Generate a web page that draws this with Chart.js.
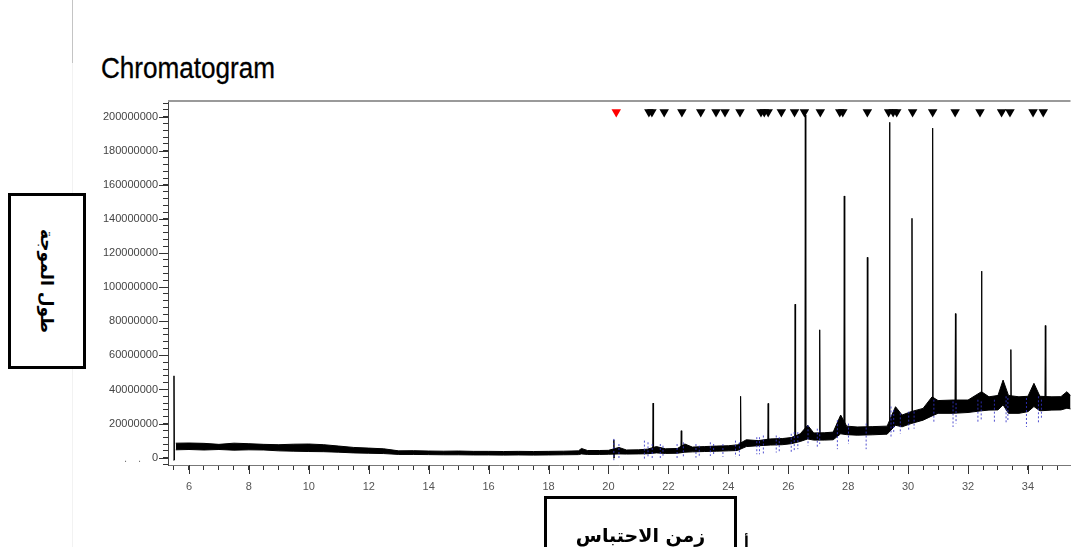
<!DOCTYPE html>
<html lang="en">
<head>
<meta charset="utf-8">
<title>Chromatogram</title>
<script src="https://cdn.jsdelivr.net/npm/chart.js@4.4.1/dist/chart.umd.min.js"></script>
<style>
    html, body { margin: 0; padding: 0; background: #fff; }
    body { width: 1076px; height: 547px; overflow: hidden; position: relative; font-family: 'Liberation Sans', Arial, sans-serif; }
    #chart { position: absolute; left: 0; top: 0; }
    .sep { position: absolute; left: 72px; top: 0; width: 1px; height: 63px; background: #c4c4c4; }
    .sep.faint { top: 63px; height: 484px; background: #f2f2f2; }
    .title { position: absolute; left: 101px; top: 54px; font-size: 29px; line-height: 1; color: #000; transform: scaleX(0.9); transform-origin: left top; white-space: nowrap; -webkit-text-stroke: 0.3px #000; }
    .box { position: absolute; border: 3px solid #000; background: #fff; box-sizing: border-box; }
    #yBox { left: 8px; top: 193px; width: 78px; height: 176px; }
    #yBox span { position: absolute; left: 50%; top: 50%; transform: translate(-50%, -50%) rotate(90deg); white-space: nowrap; font: bold 17px 'DejaVu Sans', sans-serif; }
    #xBox { left: 544px; top: 496px; width: 193px; height: 70px; }
    #xBox span { position: absolute; left: 0; right: 0; top: 25px; text-align: center; white-space: nowrap; font: bold 19px 'DejaVu Sans', sans-serif; }
    .dots { position: absolute; left: 124px; top: 452px; font-size: 11px; color: #777; letter-spacing: 4px; }
    .stray { position: absolute; left: 744px; top: 534px; font: bold 14px 'DejaVu Sans', sans-serif; }
</style>
</head>
<body>
<div class="sep"></div>
<div class="sep faint"></div>
<div class="title">Chromatogram</div>
<canvas id="chart" width="1076" height="547"></canvas>
<div class="dots">. .</div>
<div class="box" id="yBox"><span dir="rtl">طول الموجة</span></div>
<div class="box" id="xBox"><span dir="rtl">زمن الاحتباس</span></div>
<div class="stray">أ</div>
<script>
const M = 1e6;

// axis ranges (minutes, counts)
const xMin = 5.3, xMax = 35.42;
const yMin = -4.3 * M, yMax = 209.2 * M;
const yLabelStep = 20;   // millions, labelled ticks
const yMinorStep = 4;    // millions, small ticks

// noisy baseline band of the trace, upper and lower edge (millions)
const bandTimes = [5.56, 6.0, 6.5, 7.0, 7.5, 8.0, 8.5, 9.0, 9.5, 10.0, 10.5, 11.0, 11.5, 12.0, 12.5, 13.0, 13.5, 14.0, 14.5, 15.0,
    15.5, 16.0, 16.5, 17.0, 17.5, 18.0, 18.5, 19.0, 19.1, 19.3, 19.7, 20.0, 20.35, 20.6, 21.0, 21.3, 21.6, 21.9, 22.3, 22.55,
    22.8, 23.2, 23.6, 24.0, 24.3, 24.6, 25.0, 25.4, 25.8, 26.1, 26.4, 26.65, 26.85, 27.2, 27.5, 27.75, 27.95, 28.3, 28.8, 29.3,
    29.58, 29.8, 30.1, 30.5, 30.8, 31.0, 31.5, 32.0, 32.45, 32.7, 33.0, 33.17, 33.35, 33.7, 34.0, 34.2, 34.4, 34.8, 35.1, 35.3, 35.45];
const bandUpper = [8.5, 8.6, 8.4, 7.8, 8.5, 8.2, 7.8, 7.6, 7.9, 8.0, 7.6, 6.8, 6.0, 5.6, 5.2, 4.0, 4.1, 3.9, 3.8, 3.9,
    3.7, 3.7, 3.6, 3.7, 3.6, 3.7, 3.8, 4.0, 5.4, 4.2, 4.2, 4.3, 6.0, 4.5, 4.6, 5.0, 6.5, 5.2, 5.4, 8.0,
    6.2, 6.5, 6.8, 7.0, 7.5, 10.5, 10.0, 11.0, 11.2, 11.8, 14.0, 19.0, 14.5, 14.6, 15.0, 25.0, 18.5, 18.0, 18.2, 18.5,
    29.9, 25.0, 27.0, 28.9, 35.7, 33.5, 33.8, 33.8, 38.7, 35.7, 36.5, 45.5, 36.5, 35.7, 36.0, 43.6, 36.0, 35.7, 35.8, 38.7, 36.0];
const bandLower = [4.6, 4.8, 4.5, 4.8, 4.4, 4.6, 4.5, 4.0, 3.8, 3.6, 3.5, 3.2, 2.8, 2.6, 2.4, 1.9, 1.9, 1.8, 1.7, 1.7,
    1.6, 1.6, 1.5, 1.6, 1.5, 1.6, 1.7, 1.8, 2.2, 1.9, 1.9, 2.0, 2.2, 2.1, 2.2, 2.3, 2.8, 2.5, 2.6, 3.2,
    3.4, 3.6, 3.8, 4.0, 4.2, 6.5, 7.0, 7.4, 7.6, 8.2, 9.5, 11.0, 10.3, 10.3, 10.5, 14.0, 13.5, 13.2, 13.4, 13.8,
    19.0, 18.1, 20.0, 22.0, 24.5, 26.0, 26.0, 26.5, 27.5, 27.9, 28.0, 31.0, 26.0, 26.0, 27.0, 30.0, 27.5, 27.9, 28.0, 29.0, 28.5];

// sharp peaks: retention time, apex and foot (millions)
const peakTimes   = [5.5, 20.18, 21.49, 22.43, 24.41, 25.33, 26.23, 26.57, 27.05, 27.87, 28.64, 29.38, 30.13, 30.82, 31.58, 32.45, 33.43, 34.58];
const peakHeights = [48, 10.5, 32, 15.8, 36, 31.8, 90, 201, 75, 153.5, 117.5, 196.7, 140.4, 193.3, 84.5, 109.4, 63.4, 77.5];
const peakBases   = [-1.5, -0.3, 3.5, 4, 5.5, 8.5, 9.5, 11, 11.5, 15, 15, 16, 21, 26, 28, 29, 30, 31];

// detected-peak markers along the top (first one red)
const markerTimes = [20.26, 21.35, 21.45, 21.86, 22.45, 23.08, 23.59, 23.89, 24.39, 25.09, 25.2, 25.33, 25.77, 26.21, 26.54,
    27.07, 27.72, 27.82, 28.64, 29.35, 29.5, 29.62, 30.15, 30.82, 31.57, 32.4, 33.12, 33.4, 34.17, 34.51];
const markerLevel = 202.8;

// blue dashed integration marks: time, top, bottom (millions)
const blueTimes  = [20.18, 20.35, 21.2, 21.32, 21.46, 21.73, 21.82, 22.29, 22.5, 22.92, 23.03, 23.4, 23.51, 23.82, 24.24, 24.37,
    24.95, 25.04, 25.17, 25.6, 25.7, 26.1, 26.2, 26.32, 26.66, 26.97, 27.05, 27.64, 28.01, 28.6, 29.43, 29.52, 29.74, 30.02,
    30.2, 30.86, 31.5, 31.6, 32.33, 32.44, 32.88, 33.27, 33.33, 33.95, 34.35, 34.45];
const blueTop    = [11, 8, 10, 9, 8, 8, 7, 8, 9, 8, 7, 9, 8, 8, 10, 9,
    12, 12, 13, 13, 12, 14, 15, 15, 19, 17, 16, 22, 20, 20, 30, 28, 26, 27,
    27, 34, 33, 32, 34, 33, 34, 36, 35, 35, 36, 34];
const blueBottom = [-1.5, -1, -1, 0, -1, -1, 0, -1, 0, 0, 0.5, 1, 1, 0.5, 0.5, 1,
    2, 2, 2.5, 3, 3.5, 3, 4, 5, 7, 6, 8, 5, 8, 5, 12, 14, 14, 16,
    17, 20, 18, 20, 21, 22, 20, 20, 22, 18, 20, 23];

// Build datasets
const lowerPts = bandTimes.map((t, i) => ({ x: t, y: bandLower[i] * M }));
const upperPts = bandTimes.map((t, i) => ({ x: t, y: bandUpper[i] * M }));

const peakPts = [];
peakTimes.forEach((t, i) => {
    peakPts.push({ x: t - 0.015, y: peakBases[i] * M });
    peakPts.push({ x: t, y: peakHeights[i] * M });
    peakPts.push({ x: t + 0.015, y: peakBases[i] * M });
    peakPts.push({ x: t + 0.016, y: null });
});

const bluePts = [];
blueTimes.forEach((t, i) => {
    bluePts.push({ x: t, y: blueTop[i] * M });
    bluePts.push({ x: t, y: blueBottom[i] * M });
    bluePts.push({ x: t + 0.001, y: null });
});

const markerPts = markerTimes.map(t => ({ x: t, y: markerLevel * M }));
const markerColors = markerTimes.map((t, i) => i === 0 ? '#ff0000' : '#000000');

const isYLabel = v => Math.abs(v % (yLabelStep * M)) < 1;
const isXLabel = v => Math.abs(v % 2) < 1e-9;

// longer tick marks at labelled values and the top frame line
const majorTicks = {
    id: 'majorTicks',
    afterDraw(chart) {
        const { ctx, chartArea, scales } = chart;
        ctx.save();
        ctx.strokeStyle = '#333';
        ctx.lineWidth = 1;
        ctx.beginPath();
        scales.x.ticks.forEach(t => {
            if (isXLabel(t.value)) {
                const px = Math.round(scales.x.getPixelForValue(t.value)) + 0.5;
                ctx.moveTo(px, chartArea.bottom);
                ctx.lineTo(px, chartArea.bottom + 9);
            }
        });
        scales.y.ticks.forEach(t => {
            if (isYLabel(t.value)) {
                const py = Math.round(scales.y.getPixelForValue(t.value)) + 0.5;
                ctx.moveTo(chartArea.left - 9, py);
                ctx.lineTo(chartArea.left, py);
            }
        });
        ctx.stroke();
        ctx.strokeStyle = '#9a9a9a';
        ctx.lineWidth = 2;
        ctx.beginPath();
        ctx.moveTo(chartArea.left, chartArea.top);
        ctx.lineTo(chartArea.right, chartArea.top);
        ctx.stroke();
        ctx.restore();
    }
};

new Chart(document.getElementById('chart'), {
    type: 'line',
    data: {
        datasets: [
            { data: lowerPts, borderColor: '#000', borderWidth: 1, pointRadius: 0, fill: false, order: 4 },
            { data: upperPts, borderColor: '#000', borderWidth: 1, pointRadius: 0, fill: '-1', backgroundColor: '#000', order: 3 },
            { data: peakPts, borderColor: '#000', borderWidth: 1, pointRadius: 0, spanGaps: false, order: 2 },
            { data: bluePts, borderColor: 'rgba(50,50,200,0.85)', borderWidth: 1, borderDash: [2, 2], pointRadius: 0, spanGaps: false, order: 1 },
            {
                data: markerPts, showLine: false, pointStyle: 'triangle', rotation: 180, pointRadius: 5.5,
                pointBackgroundColor: markerColors, pointBorderColor: markerColors, pointBorderWidth: 0, order: 0
            }
        ]
    },
    options: {
        responsive: false,
        animation: false,
        devicePixelRatio: 1,
        layout: { padding: { top: 101, right: 0, bottom: 0, left: 0 } },
        plugins: { legend: { display: false }, tooltip: { enabled: false } },
        scales: {
            x: {
                type: 'linear',
                min: xMin,
                max: xMax,
                afterFit: scale => { scale.height = 82; },
                border: { color: '#777', width: 1 },
                grid: { drawOnChartArea: false, tickLength: 5, color: '#333' },
                ticks: {
                    stepSize: 0.5,
                    includeBounds: false,
                    autoSkip: false,
                    maxRotation: 0,
                    padding: 10,
                    color: '#555',
                    font: { family: 'Liberation Sans', size: 11 },
                    callback: v => (isXLabel(v) ? String(v) : '')
                }
            },
            y: {
                min: yMin,
                max: yMax,
                afterFit: scale => { scale.width = 168; },
                afterBuildTicks: scale => {
                    const ticks = [];
                    for (let v = -yMinorStep; v * M <= yMax; v += yMinorStep) ticks.push({ value: v * M });
                    scale.ticks = ticks;
                },
                border: { color: '#444', width: 1 },
                grid: { drawOnChartArea: false, tickLength: 5, color: '#333' },
                ticks: {
                    autoSkip: false,
                    padding: 5,
                    color: '#444',
                    font: { family: 'Liberation Sans', size: 11 },
                    callback: v => (isYLabel(v) ? String(Math.round(v)) : '')
                }
            }
        }
    },
    plugins: [majorTicks]
});
</script>
</body>
</html>
